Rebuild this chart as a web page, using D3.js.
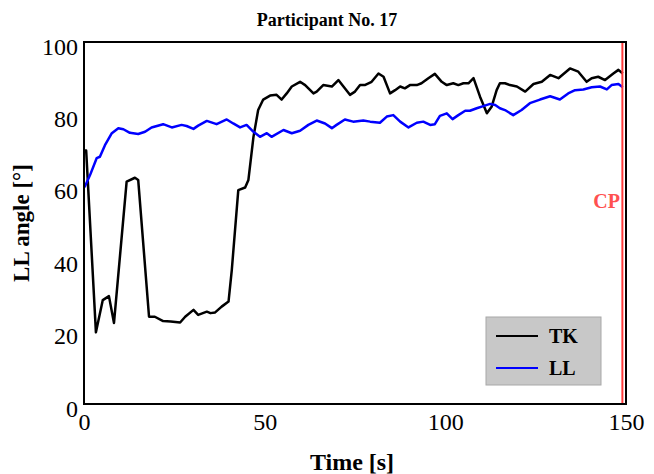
<!DOCTYPE html>
<html>
<head>
<meta charset="utf-8">
<script src="https://cdn.jsdelivr.net/npm/d3@7/dist/d3.min.js"></script>
<style>
  html, body { margin: 0; padding: 0; background: #fff; }
  svg { display: block; }
  text { font-family: "Liberation Serif", "Times New Roman", serif; }
</style>
</head>
<body>
<svg id="chart" width="654" height="474"></svg>
<script>
const title = "Participant No. 17";
const xLabel = "Time [s]";
const yLabel = "LL angle [°]";
const xTicks = [0, 50, 100, 150];
const yTicks = [0, 20, 40, 60, 80, 100];
const seriesNames = ["TK", "LL"];
const cpTime = 149;
const cpLabel = "CP";

const tkTime  = [0,0.6,3.3,5.2,6.9,8.3,11.8,14.1,15,18,19.6,21.9,24,26.6,28,30.3,31.6,34,35,36.3,38.1,40,40.9,42.7,44.6,45.5,46.9,48.2,49.6,51.5,53.3,54.7,56.1,57.5,59.8,61.2,62.6,63.5,64.4,66.2,68.6,70.4,71.8,73.6,75,76.4,77.7,79.6,81.5,82.9,84.7,86.1,87.5,88.8,90.2,92.1,93.4,95.3,97.1,99,100.4,102.2,103.6,105,106.4,107.8,109.6,111.5,112.8,114.2,115.1,116.5,117.9,119.8,122.1,124.4,126.7,129,131.3,134.5,136.8,139.1,140.5,142.3,144.2,146.5,147.9,149.1];
const tkAngle = [70,70,19.8,28.7,29.8,22.4,61.4,62.5,61.9,24.1,24.1,22.9,22.8,22.5,24.1,26,24.6,25.5,25.1,25.3,26.9,28.3,37,59.1,59.8,61.9,73.8,81.2,84.1,85.2,85.4,84.1,85.8,87.7,89,88.1,86.7,85.8,86.3,88.1,87.7,89.5,87.7,85.4,86.3,88.1,88.1,89,91.3,90.4,85.8,86.7,87.7,87.2,88.1,88.1,88.6,90,91.2,89,88.1,88.6,88.1,88.6,88.6,90,84.9,80.3,82.1,86.7,88.6,88.6,88.1,87.7,86.3,88.4,89,90.9,90,92.7,91.8,89,90,90.4,89.5,91.3,92.3,91.3];

const llTime  = [0,0.3,1.7,3.5,4.4,5.8,7.7,9.5,10.9,12.7,15,16.9,18.7,21.9,24.3,27,28.4,30.3,31.6,34,36.7,39.5,41.3,43.2,45,46.9,48.7,50.6,51.9,55.2,57.5,59.8,62.1,64.4,66.7,68.6,69.9,72.2,74.5,77.3,79.2,81.9,83.8,85.6,87.5,89.8,92.1,93.9,95.8,97.1,98.5,100.4,102,103.6,105.5,106.8,108.7,110.5,112.4,113.8,115.1,116.5,118.8,121.1,123.4,126.2,129,131.7,134,135.9,138.2,140.5,142.8,144.7,146,147.9,149.1];
const llAngle = [59.8,60.2,63.3,67.9,68.3,71.5,74.8,76.2,75.9,74.9,74.6,75.2,76.4,77.3,76.4,77.1,76.8,76,76.9,78.2,77.3,78.6,77.5,76.4,77.1,75.2,73.8,74.8,73.8,75.7,74.8,75.5,77.1,78.3,77.5,76.2,77.1,78.6,78,78.3,78,77.7,79.4,79.8,78,76.4,77.7,78,77.1,77.3,79.6,80.3,78.7,79.8,81,81,81.7,82.3,82.9,82.6,81.7,81.2,79.8,81.2,83.1,84.1,85,84.1,85.8,86.7,86.9,87.5,87.7,86.9,88.1,88.4,87.5];

const colors = { TK: "#000000", LL: "#0000ff" };

const svg = d3.select("#chart");
const m = { left: 84, right: 626, top: 42, bottom: 404 };

const x = d3.scaleLinear().domain([0, 150]).range([m.left, m.right]);
const y = d3.scaleLinear().domain([0, 100]).range([m.bottom, m.top]);

// Title
svg.append("text").attr("x", 327).attr("y", 26)
  .attr("text-anchor", "middle").attr("font-size", 18).attr("font-weight", "bold")
  .text(title);

// clip
svg.append("clipPath").attr("id", "clip").append("rect")
  .attr("x", m.left).attr("y", m.top).attr("width", m.right - m.left).attr("height", m.bottom - m.top);

const line = d3.line().x(d => x(d[0])).y(d => y(d[1]));
const series = [
  { name: "TK", data: tkTime.map((t, i) => [t, tkAngle[i]]) },
  { name: "LL", data: llTime.map((t, i) => [t, llAngle[i]]) }
];

const g = svg.append("g").attr("clip-path", "url(#clip)");
series.forEach(s => {
  g.append("path").datum(s.data).attr("d", line)
    .attr("fill", "none").attr("stroke", colors[s.name])
    .attr("stroke-width", 2.5).attr("stroke-linejoin", "round");
});

// CP line
svg.append("line").attr("x1", x(cpTime)).attr("x2", x(cpTime))
  .attr("y1", m.top).attr("y2", m.bottom)
  .attr("stroke", "#ff3b3b").attr("stroke-width", 2);
svg.append("text").attr("x", x(cpTime) - 2.5).attr("y", 208)
  .attr("text-anchor", "end").attr("font-size", 20).attr("font-weight", "bold")
  .attr("fill", "#ff5050").text(cpLabel);

// Axes (ticks as labels only)
const xAxis = d3.axisBottom(x).tickValues(xTicks).tickSize(0).tickPadding(0).tickFormat(d3.format("d"));
const yAxis = d3.axisLeft(y).tickValues(yTicks).tickSize(0).tickPadding(0).tickFormat(d3.format("d"));

const gx = svg.append("g").attr("transform", `translate(0,${m.bottom})`).call(xAxis);
gx.select(".domain").remove();
gx.selectAll("text").attr("font-family", "Liberation Serif, serif").attr("font-size", 24)
  .attr("fill", "#000").attr("dy", null).attr("y", 26);

const gy = svg.append("g").attr("transform", `translate(${m.left},0)`).call(yAxis);
gy.select(".domain").remove();
gy.selectAll("text").attr("font-family", "Liberation Serif, serif").attr("font-size", 24)
  .attr("fill", "#000").attr("dy", null).attr("x", -6).attr("y", 12);

// Frame
svg.append("rect").attr("x", m.left).attr("y", m.top)
  .attr("width", m.right - m.left).attr("height", m.bottom - m.top)
  .attr("fill", "none").attr("stroke", "#000").attr("stroke-width", 2);

// Axis labels
svg.append("text").attr("x", 352).attr("y", 470)
  .attr("text-anchor", "middle").attr("font-size", 24).attr("font-weight", "bold")
  .text(xLabel);
svg.append("text").attr("transform", "translate(29,223) rotate(-90)")
  .attr("text-anchor", "middle").attr("font-size", 23).attr("font-weight", "bold")
  .text(yLabel);

// Legend
const lg = svg.append("g");
lg.append("rect").attr("x", 486).attr("y", 317).attr("width", 115).attr("height", 68)
  .attr("fill", "#c8c8c8").attr("stroke", "#a8a8a8").attr("stroke-width", 1);
seriesNames.forEach((n, i) => {
  const yy = 336 + i * 32;
  lg.append("line").attr("x1", 496).attr("x2", 538).attr("y1", yy).attr("y2", yy)
    .attr("stroke", colors[n]).attr("stroke-width", 2);
  lg.append("text").attr("x", 549).attr("y", yy + 7)
    .attr("font-size", 20).attr("font-weight", "bold").text(n);
});
</script>
</body>
</html>
